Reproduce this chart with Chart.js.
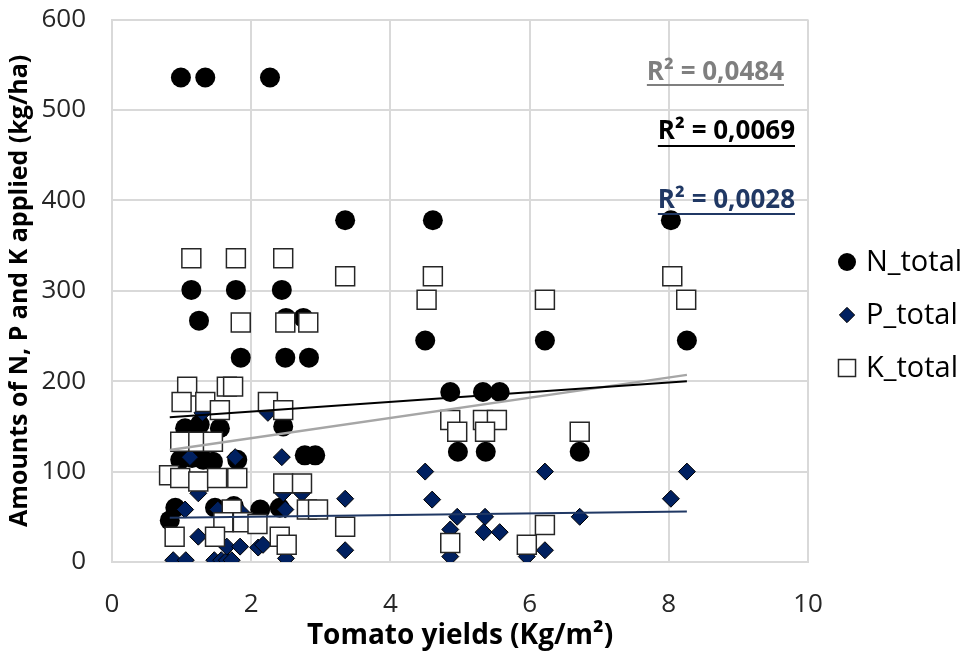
<!DOCTYPE html>
<html>
<head>
<meta charset="utf-8">
<script src="https://cdn.jsdelivr.net/npm/chart.js@4.4.1/dist/chart.umd.min.js"></script>
<style>
  html, body { margin: 0; padding: 0; background: #fff; }
  #wrap { width: 971px; height: 654px; }
</style>
</head>
<body>
<div id="wrap"><canvas id="chart" width="971" height="654"></canvas></div>
<script>
// Tomato yield vs. applied N, P, K
const nX = [0.99, 1.34, 2.27, 3.35, 4.61, 8.03, 1.14, 1.78, 2.44, 1.25, 2.5, 2.75, 1.85, 2.49, 2.83,
            4.50, 6.22, 8.26, 4.86, 5.33, 5.57, 4.97, 5.37, 6.72, 2.77, 2.92, 1.05, 1.26, 1.55, 2.46,
            0.98, 1.15, 1.31, 1.45, 1.8, 0.91, 1.48, 1.75, 2.13, 2.41, 0.83];
const nY = [536, 536, 536, 378, 378, 378, 301, 301, 301, 267, 270, 270, 226, 226, 226,
            245, 245, 245, 188, 188, 188, 122, 122, 122, 118, 118, 148, 152, 148, 150,
            113, 115, 113, 111, 113, 60, 60, 62, 58, 60, 46];

const pX = [0.88, 1.06, 1.47, 1.57, 1.65, 1.72, 2.5, 4.86, 5.96, 1.24, 1.65, 1.84, 2.1, 2.17,
            1.05, 1.52, 1.87, 2.49, 1.24, 2.46, 2.73, 1.12, 1.77, 2.44, 1.3, 2.24,
            3.35, 3.35, 4.5, 4.6, 4.96, 4.86, 5.36, 5.34, 5.57, 6.22, 6.22, 6.72, 8.03, 8.26];
const pY = [2, 2, 2, 2, 2, 2, 4, 6, 6, 28, 17, 17, 16, 19,
            58, 58, 54, 58, 76, 76, 76, 116, 116, 116, 165, 165,
            70, 13, 100, 69, 50, 36, 50, 33, 33, 100, 13, 50, 70, 100];

const kX = [1.14, 1.78, 2.46, 3.35, 4.61, 8.05, 4.52, 6.22, 8.25, 1.85, 2.49, 2.82,
            1.08, 1.65, 1.74, 1.0, 1.34, 2.24, 1.55, 2.46, 4.86, 5.33, 5.53, 4.96, 5.36, 6.72,
            0.98, 1.24, 1.45, 0.82, 0.98, 1.24, 1.51, 1.8, 2.46, 2.73,
            1.72, 2.8, 2.96, 1.6, 1.88, 2.09, 3.35, 6.22, 0.9, 1.48, 2.41, 2.51, 4.86, 5.96];
const kY = [336, 336, 336, 316, 316, 316, 290, 290, 290, 265, 265, 265,
            194, 194, 194, 177, 177, 177, 168, 168, 157, 157, 157, 144, 144, 144,
            133, 133, 133, 96, 93, 89, 93, 93, 87, 87,
            58, 58, 58, 44, 44, 42, 39, 41, 28, 28, 28, 19, 21, 19];

// linear trend lines (end points)
const trendX = [0.83, 8.26];
const trendN = [160, 200];
const trendP = [49, 56];
const trendK = [124, 207];

const seriesNames = ['N_total', 'P_total', 'K_total'];
const r2Labels = ['R² = 0,0484', 'R² = 0,0069', 'R² = 0,0028'];
const xTicks = [0, 2, 4, 6, 8, 10];
const yTicks = [0, 100, 200, 300, 400, 500, 600];

const NAVY = '#002060';
const LINE_BLUE = '#203864';
const GRID = '#d9d9d9';
const FONT = "'Open Sans', 'Noto Sans', sans-serif";

const pts = (xs, ys) => xs.map((x, i) => ({ x, y: ys[i] }));

const markerN = { pointStyle: 'circle', radius: 10, backgroundColor: '#000', borderColor: '#000', borderWidth: 0 };
const markerP = { pointStyle: 'rectRot', radius: 8.5, backgroundColor: NAVY, borderColor: '#000', borderWidth: 1 };
const markerK = { pointStyle: 'rect', radius: 13.4, backgroundColor: '#fff', borderColor: '#262626', borderWidth: 1.5 };

function trend(ys, color, width) {
  return {
    type: 'line', data: pts(trendX, ys), borderColor: color, borderWidth: width,
    pointRadius: 0, fill: false, order: -1, tension: 0
  };
}

// R² labels + legend drawn on the canvas
const overlay = {
  id: 'overlay',
  afterDraw(chart) {
    const ctx = chart.ctx;
    ctx.save();
    const r2 = [
      { text: r2Labels[0], color: '#7f7f7f', right: 784, base: 80, line: 84 },
      { text: r2Labels[1], color: '#000000', right: 795, base: 139, line: 145 },
      { text: r2Labels[2], color: LINE_BLUE, right: 795, base: 208, line: 213 },
    ];
    ctx.font = 'bold 26px ' + FONT;
    ctx.textAlign = 'right';
    ctx.textBaseline = 'alphabetic';
    r2.forEach(l => {
      ctx.fillStyle = l.color;
      ctx.fillText(l.text, l.right, l.base);
      const w = ctx.measureText(l.text).width;
      ctx.fillRect(l.right - w, l.line, w, 2);
    });

    const rows = [
      { name: seriesNames[0], m: markerN, y: 262 },
      { name: seriesNames[1], m: markerP, y: 315 },
      { name: seriesNames[2], m: markerK, y: 368 },
    ];
    ctx.font = '29px ' + FONT;
    ctx.textAlign = 'left';
    ctx.textBaseline = 'middle';
    rows.forEach(r => {
      ctx.fillStyle = r.m.backgroundColor;
      ctx.strokeStyle = r.m.borderColor;
      ctx.lineWidth = r.m.borderWidth;
      Chart.helpers.drawPoint(ctx, {
        pointStyle: r.m.pointStyle, radius: r.m.radius * 0.9, rotation: 0, borderWidth: r.m.borderWidth
      }, 847, r.y);
      ctx.fillStyle = '#000';
      ctx.fillText(r.name, 866, r.y + 1);
    });
    ctx.restore();
  }
};

new Chart(document.getElementById('chart'), {
  type: 'scatter',
  data: {
    datasets: [
      { label: seriesNames[0], data: pts(nX, nY), order: 3, ...markerN, pointRadius: markerN.radius, pointStyle: markerN.pointStyle },
      { label: seriesNames[1], data: pts(pX, pY), order: 2, ...markerP, pointRadius: markerP.radius, pointStyle: markerP.pointStyle },
      { label: seriesNames[2], data: pts(kX, kY), order: 1, ...markerK, pointRadius: markerK.radius, pointStyle: markerK.pointStyle },
      trend(trendN, '#000000', 2),
      trend(trendP, LINE_BLUE, 2),
      trend(trendK, '#a6a6a6', 2.5),
    ]
  },
  options: {
    responsive: false,
    animation: false,
    devicePixelRatio: 1,
    layout: { padding: { left: 0, right: 163, top: 4, bottom: 0 } },
    plugins: { legend: { display: false }, tooltip: { enabled: false } },
    scales: {
      x: {
        type: 'linear', min: 0, max: 10,
        afterBuildTicks: s => { s.ticks = xTicks.map(v => ({ value: v })); },
        afterFit: s => { s.height = 92; },
        grid: { color: GRID, lineWidth: 2, tickLength: 0 },
        border: { color: GRID, width: 2 },
        ticks: { color: '#262626', padding: 27, maxRotation: 0, font: { family: FONT, size: 26 } },
        title: {
          display: true, text: 'Tomato yields (Kg/m²)', color: '#000',
          font: { family: FONT, size: 28, weight: 'bold' }, padding: { top: 0, bottom: 1 }
        }
      },
      y: {
        type: 'linear', min: 0, max: 600,
        afterBuildTicks: s => { s.ticks = yTicks.map(v => ({ value: v })); },
        afterFit: s => { s.width = 112; },
        // invisible tick marks give the gap between axis and labels
        grid: { color: GRID, lineWidth: 2, tickLength: 22, tickColor: 'rgba(0,0,0,0)' },
        border: { color: GRID, width: 2 },
        ticks: { color: '#262626', padding: 4, font: { family: FONT, size: 26 } },
        title: {
          display: true, text: 'Amounts of N, P and K applied (kg/ha)', color: '#000',
          font: { family: FONT, size: 25, weight: 'bold' }, padding: { top: 5, bottom: 0 }
        }
      }
    }
  },
  plugins: [overlay]
});
</script>
</body>
</html>
